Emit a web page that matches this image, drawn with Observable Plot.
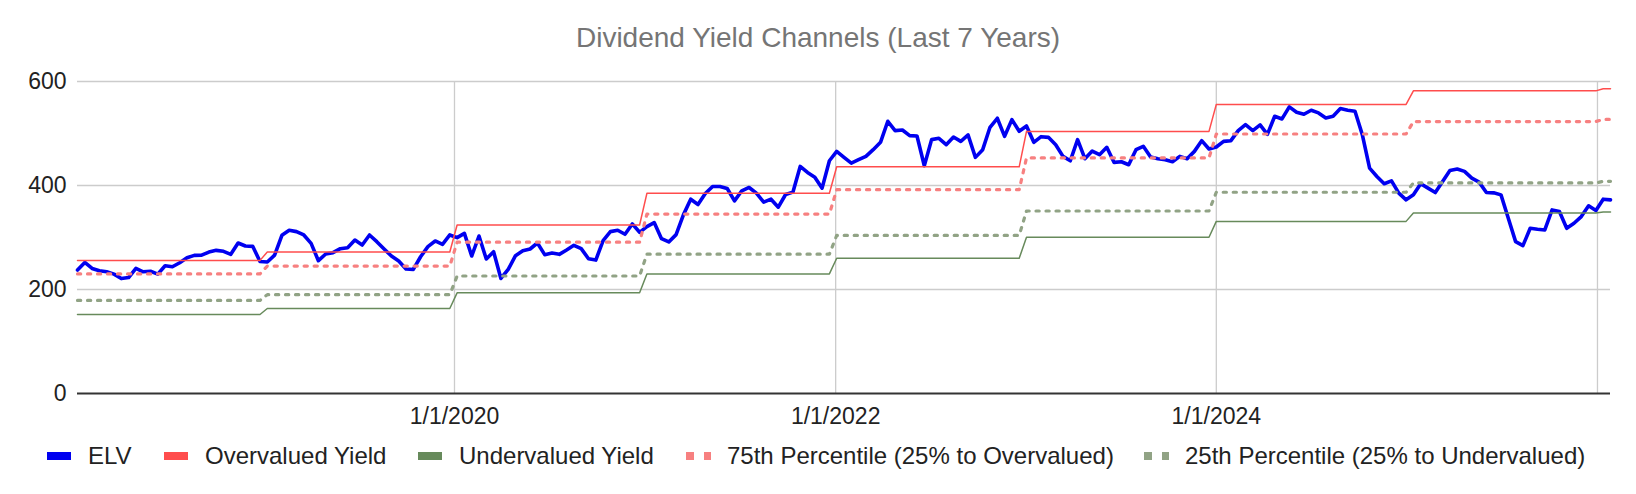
<!DOCTYPE html>
<html><head><meta charset="utf-8">
<script src="https://cdn.jsdelivr.net/npm/d3@7"></script>
<script src="https://cdn.jsdelivr.net/npm/@observablehq/plot@0.6"></script>
<style>
body{margin:0;background:#fff;font-family:"Liberation Sans",Arial,sans-serif;}
#title{height:62px;box-sizing:border-box;padding-top:24px;text-align:center;font-size:28px;line-height:28px;color:#757575;}
#legend{position:relative;height:36px;font-size:24px;color:#222;width:1636px;}
.item{position:absolute;top:0;height:36px;display:flex;align-items:center;white-space:nowrap;}
.sw{margin-right:17px;display:flex;align-items:center;}
</style></head><body>
<div id="title">Dividend Yield Channels (Last 7 Years)</div>
<div id="chart"></div>
<div id="legend"></div>
<script>
const startDate = "2018-01-08";
const stepDays = 14;
const elv = [
237.4,252,240.5,236,234,229.6,221,223,240.5,234,235,229.6,245.7,243.8,251.5,261,265.6,266,272,275.3,273.4,267.6,289.4,283.6,283,254,
252.8,266,304.2,313.9,311.3,304.9,288.8,255.4,268.2,270.8,278.5,280.4,295.2,285.6,304.9,292,277.9,264.4,254.7,239.3,238.6,263,282.4,293.3,286.9,304.9,
299.7,308,264.4,302.9,258.6,272.7,221.3,238.6,265,274.6,277.9,289.4,267,270.1,267.6,275.9,285,278.5,259.2,256.6,294,311.3,313.9,306.2,326.1,310,
321,328.7,297.8,291.4,305.5,343.5,373.7,363.4,384.6,398.1,398.1,394.3,370.5,389.8,396.2,385.3,367.9,373.7,358.3,382.7,387.2,
436.7,425.1,416,394.9,447.6,465.6,454.1,443.1,449.6,456,468.9,483,523.5,505.5,506.8,495.9,495.2,438,488.2,490.7,478.5,493.3,484.9,497.2,454.1,468.9,
512,529.3,494.6,526.7,504.2,514.5,483,493.9,492.6,478.5,456,447.6,488.2,451.5,466.3,459.2,473.4,444.4,445.7,439.9,468.9,475.3,454.7,451.5,
449.6,445.7,456,451.5,465.6,486.2,470.1,474,484.9,486.2,505.5,517.1,505.5,516.5,498.4,533.2,528,551.2,540.9,537,544.7,539.6,530,533.2,548,544.7,
542.8,497.8,433.5,417.4,403.3,409,385.3,372.4,382,403.3,394.9,386.5,407.8,429,431.6,427.1,414.2,406.5,386.5,385.9,382,337,292,284.3,317.7,315.8,
314.5,353.1,349.9,317.7,327.4,340.2,360.9,351.8,373.7,372.4
];
const years = [2018,2019,2020,2021,2022,2023,2024,2025,2026];
const overvalued = [256,272,324,385,436,504,556,582,586];
const pct75 = [230,245,291,345,392,453,499,523,527];
const pct25 = [179,190,226,268,304,351,387,405,408];
const undervalued = [152,163.5,193.6,230,260,300.5,331,347,349];
const yTicks = [0,200,400,600];
const xTickLabels = ["1/1/2020","1/1/2022","1/1/2024"];
const gridYears = [2020,2022,2024,2026];

const seriesNames = ["ELV","Overvalued Yield","Undervalued Yield","75th Percentile (25% to Overvalued)","25th Percentile (25% to Undervalued)"];
const colors = {elv:"#0000f0", over:"#ff4d4d", under:"#678a5b", p75:"#f78080", p25:"#91a385"};
const legendLeft = [47, 164, 418, 686, 1144];

const t0 = new Date(startDate + "T00:00:00Z").getTime();
const rows = elv.map((v, i) => {
  const date = new Date(t0 + i * stepDays * 864e5);
  const k = years.indexOf(date.getUTCFullYear());
  return {date, elv: v, over: overvalued[k], under: undervalued[k], p75: pct75[k], p25: pct25[k]};
});
const parseLabel = s => { const [m, d, y] = s.split("/").map(Number); return new Date(Date.UTC(y, m - 1, d)); };
const tickDates = xTickLabels.map(parseLabel);
const gridDates = gridYears.map(y => new Date(Date.UTC(y, 0, 1)));

const chart = Plot.plot({
  width: 1636,
  height: 376,
  marginTop: 19,
  marginBottom: 45,
  marginLeft: 77,
  marginRight: 26,
  style: {fontSize: "23px", fontFamily: "'Liberation Sans', Arial, sans-serif", color: "#222", background: "#fff"},
  x: {type: "utc", domain: d3.extent(rows, d => d.date)},
  y: {domain: [0, 600]},
  marks: [
    Plot.ruleY(yTicks.filter(d => d > 0), {stroke: "#cccccc", strokeWidth: 1.3}),
    Plot.ruleX(gridDates, {y1: 0, y2: 600, stroke: "#cccccc", strokeWidth: 1.3}),
    Plot.line(rows, {x: "date", y: "elv", stroke: colors.elv, strokeWidth: 3.6, strokeLinejoin: "round"}),
    Plot.line(rows, {x: "date", y: "over", stroke: colors.over, strokeWidth: 1.5}),
    Plot.line(rows, {x: "date", y: "under", stroke: colors.under, strokeWidth: 1.5}),
    Plot.line(rows, {x: "date", y: "p75", stroke: colors.p75, strokeWidth: 3.2, strokeDasharray: "3.2,6.8"}),
    Plot.line(rows, {x: "date", y: "p25", stroke: colors.p25, strokeWidth: 3.2, strokeDasharray: "3.2,6.8"}),
    Plot.ruleY([0], {stroke: "#333", strokeWidth: 2}),
    Plot.axisY({ticks: yTicks, tickSize: 0, tickPadding: 11, label: null}),
    Plot.axisX({ticks: tickDates, tickSize: 0, tickPadding: 14, label: null,
      tickFormat: d => xTickLabels[tickDates.findIndex(t => +t === +d)]})
  ]
});
document.getElementById("chart").appendChild(chart);

const legend = document.getElementById("legend");
const keys = ["elv","over","under","p75","p25"];
keys.forEach((k, i) => {
  const item = document.createElement("div");
  item.className = "item";
  item.style.left = legendLeft[i] + "px";
  const sw = document.createElement("div");
  sw.className = "sw";
  if (k === "p75" || k === "p25") {
    sw.innerHTML = `<div style="width:7.5px;height:7.5px;background:${colors[k]}"></div><div style="width:10px"></div><div style="width:7.5px;height:7.5px;background:${colors[k]}"></div>`;
    sw.style.marginRight = "16px";
  } else {
    sw.innerHTML = `<div style="width:24px;height:8px;background:${colors[k]}"></div>`;
  }
  const tx = document.createElement("span");
  tx.textContent = seriesNames[i];
  item.appendChild(sw); item.appendChild(tx);
  legend.appendChild(item);
});
</script></body></html>
